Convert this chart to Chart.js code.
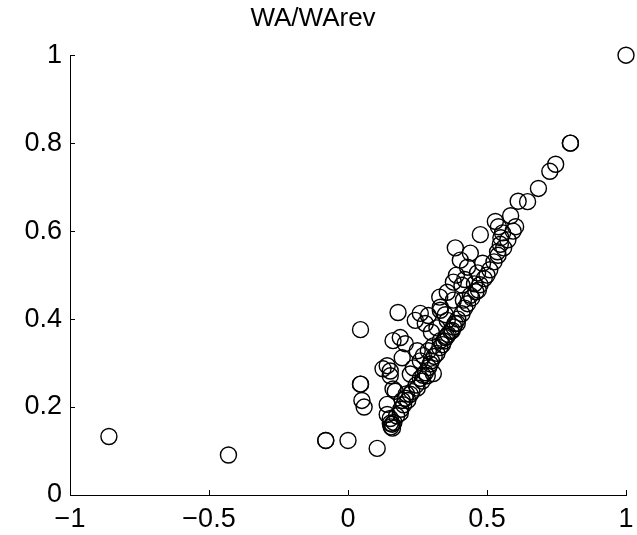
<!DOCTYPE html>
<html lang="en">
<head>
    <meta charset="UTF-8">
    <title>WA/WArev</title>
    <script src="https://cdn.jsdelivr.net/npm/chart.js"></script>
    <style>
        html, body { margin: 0; padding: 0; background: #fff; }
    </style>
</head>
<body>
<canvas id="scatter" width="637" height="535"></canvas>

<script>
    // WA values (x) and WArev values (y)
    const waValues = [
        -0.86, -0.43, -0.08, -0.08, 0.0, 0.105, 1.0, 0.8, 0.8,
        0.045, 0.045, 0.045, 0.05, 0.058,
        0.747, 0.726, 0.685, 0.646, 0.612, 0.585, 0.603, 0.594, 0.541, 0.556, 0.55, 0.476, 0.53, 0.548, 0.538,
        0.386, 0.44, 0.404, 0.484, 0.43, 0.466, 0.50, 0.379, 0.41, 0.469, 0.44, 0.357, 0.379, 0.415, 0.332,
        0.42, 0.455, 0.39,
        0.18, 0.26, 0.289, 0.332, 0.242, 0.278, 0.357, 0.393, 0.375, 0.35, 0.332, 0.307, 0.188, 0.162, 0.206,
        0.289, 0.249, 0.271, 0.195, 0.26, 0.296, 0.235, 0.141, 0.278, 0.307, 0.224,
        0.162, 0.141, 0.206, 0.224, 0.249, 0.267, 0.285, 0.152, 0.159, 0.188, 0.141, 0.152,
        0.126, 0.152, 0.17, 0.152, 0.16, 0.195, 0.21,
        0.155, 0.165, 0.175, 0.19, 0.2, 0.215, 0.23, 0.245, 0.26, 0.27, 0.29, 0.3, 0.31, 0.32, 0.33, 0.34,
        0.345, 0.355, 0.36, 0.37, 0.38, 0.385, 0.395, 0.41, 0.42, 0.43, 0.445, 0.46, 0.475, 0.49, 0.51,
        0.525, 0.54, 0.56, 0.575,
        0.3, 0.32, 0.35, 0.33
    ];
    const waRevValues = [
        0.133, 0.091, 0.124, 0.124, 0.124, 0.106, 1.0, 0.8, 0.8,
        0.376, 0.252, 0.252, 0.215, 0.2,
        0.752, 0.736, 0.697, 0.667, 0.668, 0.635, 0.61, 0.6, 0.61, 0.596, 0.585, 0.592, 0.622, 0.57, 0.553,
        0.562, 0.55, 0.534, 0.527, 0.518, 0.505, 0.50, 0.484, 0.477, 0.466, 0.454, 0.461, 0.443, 0.443, 0.427,
        0.49, 0.48, 0.5,
        0.415, 0.413, 0.408, 0.42, 0.397, 0.39, 0.397, 0.39, 0.374, 0.358, 0.351, 0.339, 0.358, 0.351, 0.344,
        0.328, 0.328, 0.317, 0.312, 0.305, 0.298, 0.289, 0.294, 0.278, 0.276, 0.275,
        0.241, 0.206, 0.22, 0.229, 0.243, 0.259, 0.271, 0.174, 0.161, 0.186, 0.183, 0.271,
        0.287, 0.282, 0.236, 0.163, 0.152, 0.215, 0.23,
        0.155, 0.165, 0.18, 0.195, 0.205, 0.215, 0.235, 0.25, 0.265, 0.272, 0.29, 0.305, 0.315, 0.322, 0.335, 0.342,
        0.35, 0.36, 0.365, 0.372, 0.382, 0.39, 0.4, 0.412, 0.425, 0.435, 0.448, 0.462, 0.478, 0.492, 0.512,
        0.53, 0.545, 0.562, 0.58,
        0.37, 0.38, 0.41, 0.45
    ];
    const xTicks = [-1, -0.5, 0, 0.5, 1];
    const yTicks = [0, 0.2, 0.4, 0.6, 0.8, 1];

    const points = waValues.map((x, i) => ({ x: x, y: waRevValues[i] }));

    const fmt = v => String(+(+v).toFixed(2)).replace('-', '\u2212');

    // MATLAB style ticks pointing into the axes
    const inwardTicks = {
        id: 'inwardTicks',
        afterDraw(chart) {
            const ctx = chart.ctx;
            const xs = chart.scales.x, ys = chart.scales.y;
            const area = chart.chartArea;
            ctx.save();
            ctx.strokeStyle = '#000';
            ctx.lineWidth = 1;
            ctx.beginPath();
            xTicks.forEach(t => {
                const px = Math.round(xs.getPixelForValue(t)) + 0.5;
                ctx.moveTo(px, area.bottom);
                ctx.lineTo(px, area.bottom - 5);
            });
            yTicks.forEach(t => {
                const py = Math.round(ys.getPixelForValue(t)) + 0.5;
                ctx.moveTo(area.left, py);
                ctx.lineTo(area.left + 5, py);
            });
            ctx.stroke();
            ctx.restore();
        }
    };

    const tickFont = { family: '"Liberation Sans", Arial, Helvetica, sans-serif', size: 27 };

    new Chart(document.getElementById('scatter'), {
        type: 'scatter',
        data: {
            datasets: [{
                label: 'WA/WArev',
                data: points,
                pointStyle: 'circle',
                pointRadius: 8,
                pointHoverRadius: 8,
                pointBorderWidth: 1.4,
                borderColor: '#000',
                backgroundColor: 'rgba(0,0,0,0)',
                clip: false
            }]
        },
        options: {
            responsive: false,
            animation: false,
            events: [],
            layout: { padding: { left: 0, right: 11, top: 0, bottom: 0 } },
            plugins: {
                legend: { display: false },
                tooltip: { enabled: false },
                title: {
                    display: true,
                    text: 'WA/WArev',
                    color: '#000',
                    font: { family: tickFont.family, size: 26, weight: 'normal' },
                    padding: { top: 3, bottom: 21 }
                }
            },
            scales: {
                x: {
                    type: 'linear',
                    min: -1,
                    max: 1,
                    afterBuildTicks: s => { s.ticks = xTicks.map(v => ({ value: v })); },
                    afterFit: s => { s.height = 40; s.paddingLeft = 0; s.paddingRight = 0; },
                    grid: { display: false, drawTicks: false },
                    border: { display: true, color: '#000', width: 1 },
                    ticks: { color: '#000', font: tickFont, padding: 8, maxRotation: 0, callback: fmt }
                },
                y: {
                    type: 'linear',
                    min: 0,
                    max: 1,
                    afterBuildTicks: s => { s.ticks = yTicks.map(v => ({ value: v })); },
                    afterFit: s => { s.width = 70; s.paddingTop = 0; s.paddingBottom = 0; },
                    grid: { display: false, drawTicks: false },
                    border: { display: true, color: '#000', width: 1 },
                    ticks: { color: '#000', font: tickFont, padding: 8, callback: fmt }
                }
            }
        },
        plugins: [inwardTicks]
    });
</script>
</body>
</html>
